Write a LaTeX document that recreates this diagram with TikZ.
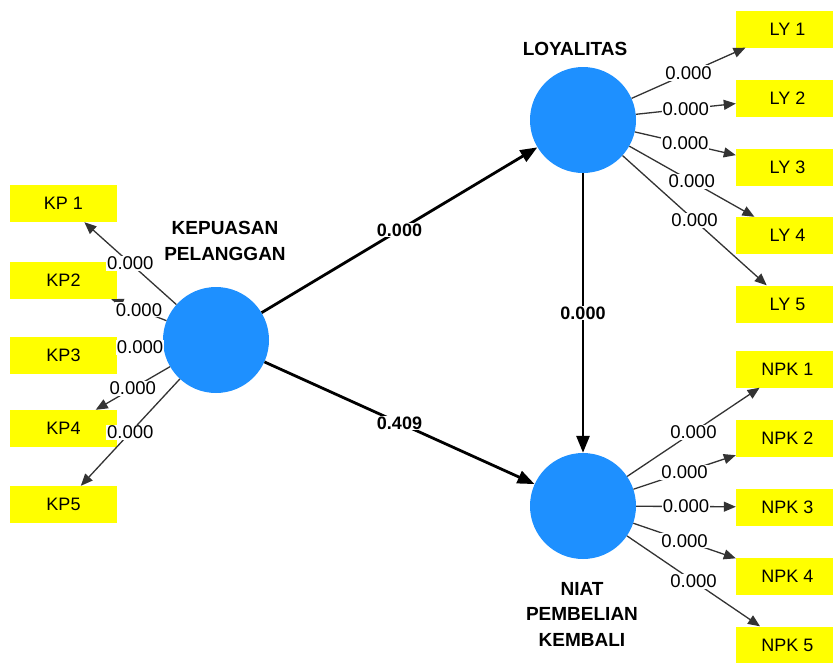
\documentclass[tikz,border=0pt]{standalone}
\usepackage{fontspec}
\setmainfont{Liberation Sans}
\usetikzlibrary{arrows.meta}
\definecolor{lvblue}{RGB}{30,144,255}
\definecolor{indyellow}{RGB}{255,255,0}
\begin{document}
\begin{tikzpicture}[x=1pt,y=-1pt,
  latent/.style={circle,fill=lvblue,draw=none,minimum size=106pt,inner sep=0pt},
  ind/.style={rectangle,fill=indyellow,draw=none,minimum width=107pt,minimum height=37pt,inner sep=0pt,font=\fontsize{18}{21}\selectfont},
  indr/.style={ind,minimum width=103pt},
  hdr/.style={font=\fontsize{19}{25.5}\selectfont\bfseries,align=center,inner sep=0pt},
  outer/.style={draw=black!80,line width=1.3pt,-{Triangle[length=12pt,width=10pt]}},
  inner/.style={draw=black,line width=2.8pt,-{Triangle[length=17pt,width=13pt]}},
  wlab/.style={fill=white,inner sep=1pt,font=\fontsize{18.5}{21}\selectfont},
  blab/.style={fill=white,inner sep=1pt,font=\fontsize{18}{21}\selectfont\bfseries}]
\useasboundingbox (0,0) rectangle (833,662);
% latent variables
\node[latent] (kp) at (216,340) {};
\node[latent] (ly) at (583,120) {};
\node[latent] (npk) at (583,506) {};
% headers
\node[hdr] (kph) at (225,241) {KEPUASAN\\PELANGGAN};
\node[hdr] (lyh) at (575,49) {LOYALITAS};
\node[hdr] (npkh) at (582,614) {NIAT\\PEMBELIAN\\KEMBALI};
% indicators KP
\node[ind] (kp1) at (63.5,203.5) {KP 1};
\node[ind] (kp2) at (63.5,280.5) {KP2};
\node[ind] (kp3) at (63.5,355) {KP3};
\node[ind] (kp4) at (63.5,428.5) {KP4};
\node[ind] (kp5) at (63.5,504.5) {KP5};
% indicators LY
\node[indr] (ly1) at (787.5,29) {LY 1};
\node[indr] (ly2) at (787.5,98) {LY 2};
\node[indr] (ly3) at (787.5,167) {LY 3};
\node[indr] (ly4) at (787.5,235.5) {LY 4};
\node[indr] (ly5) at (787.5,304) {LY 5};
% indicators NPK
\node[indr] (npk1) at (787.5,369) {NPK 1};
\node[indr] (npk2) at (787.5,438) {NPK 2};
\node[indr] (npk3) at (787.5,507) {NPK 3};
\node[indr] (npk4) at (787.5,576) {NPK 4};
\node[indr] (npk5) at (787.5,645) {NPK 5};
% outer loadings
\foreach \i in {1,...,5}{
  \draw[outer] (kp) -- (kp\i) node[wlab,midway] {0.000};
  \draw[outer] (ly) -- (ly\i) node[wlab,midway] {0.000};
  \draw[outer] (npk) -- (npk\i) node[wlab,midway] {0.000};
}
% inner paths
\draw[inner] (kp) -- (ly) node[blab,midway] {0.000};
\draw[inner] (kp) -- (npk) node[blab,midway] {0.409};
\draw[inner] (ly) -- (npk) node[blab,midway] {0.000};
\end{tikzpicture}
\end{document}
